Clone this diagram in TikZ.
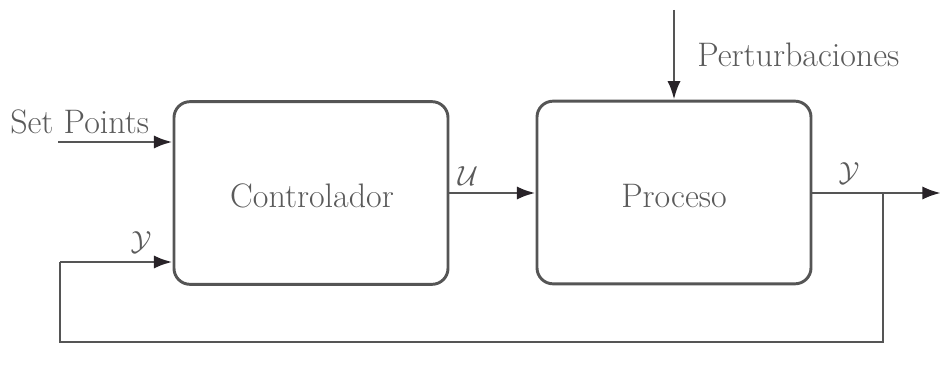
\documentclass[tikz,border=0pt]{standalone}
\usetikzlibrary{arrows.meta}
\definecolor{linegray}{RGB}{85,85,85}
\definecolor{tipgray}{RGB}{40,35,40}
\definecolor{textgray}{RGB}{90,90,90}
\begin{document}
\begin{tikzpicture}[x=0.75pt,y=-0.75pt,
  block/.style={draw=linegray,line width=2.2pt,rounded corners=12pt,minimum width=205.5pt,minimum height=137pt},
  wire/.style={draw=linegray,line width=2.2pt},
  sig/.style={wire,-{Latex[length=14pt,width=10pt,fill=tipgray,color=tipgray]}},
  lbl/.style={text=textgray,font=\fontsize{25.5}{30}\selectfont,inner sep=0pt},
  mlbl/.style={text=textgray,font=\fontsize{21.5}{26}\selectfont,inner sep=0pt}]
\useasboundingbox (0,0) rectangle (942,374);
% blocks
\node[block] (ctrl) at (311,193) {};
\node[lbl] at (312,196) {Controlador};
\node[block] (proc) at (674,192.5) {};
\node[lbl] at (674,196) {Proceso};
% inputs and outputs
\coordinate (sp) at (58,142);
\coordinate (yin) at (60,262);
\coordinate (dist) at (674,10);
\coordinate (tap) at (883,193);
\coordinate (out) at (941,193);
\coordinate (bl) at (60,342);
\coordinate (br) at (883,342);
\draw[sig] (sp) -- (sp -| ctrl.west);
\node[lbl,anchor=base west] at (10,134) {Set Points};
\draw[sig] (ctrl.east |- tap) -- (proc.west |- tap);
\node[mlbl] at (468,176) {$\mathcal{U}$};
\draw[sig] (dist) -- (proc.north);
\node[lbl,anchor=base west] at (697,67) {Perturbaciones};
\draw[sig] (proc.east |- tap) -- (out);
\node[mlbl] at (849,173) {$\mathcal{Y}$};
% feedback path
\draw[wire] (tap) -- (br) -- (bl) -- (yin);
\draw[sig] (yin) -- (yin -| ctrl.west);
\node[mlbl] at (141,242) {$\mathcal{Y}$};
\end{tikzpicture}
\end{document}
